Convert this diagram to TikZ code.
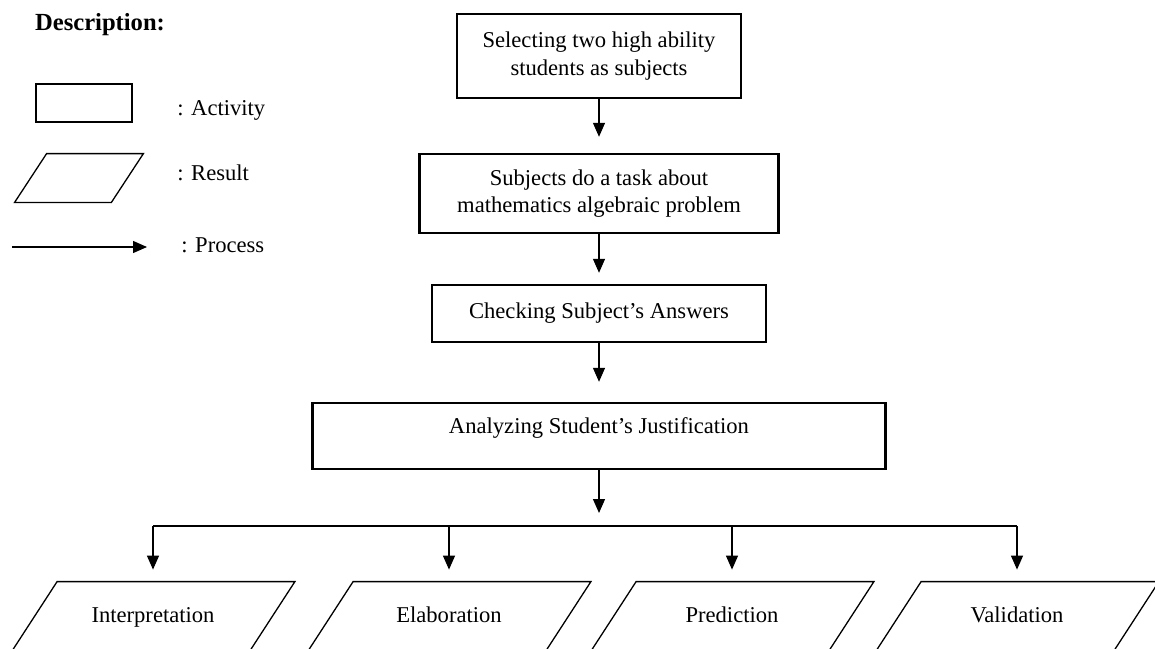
\documentclass[tikz,border=0pt]{standalone}
\usepackage{fontspec}
\setmainfont{Liberation Serif}
\usetikzlibrary{shapes.geometric, arrows.meta, positioning}

\begin{document}
\begin{tikzpicture}[
    x=0.5pt, y=-0.5pt,
    node distance=26.8pt,
    font=\fontsize{11.3}{13.8}\selectfont,
    box/.style={rectangle, draw, line width=1.2pt, align=center, inner sep=2pt},
    result/.style={minimum width=118.5pt, minimum height=35pt, text height=7.5pt, text depth=2.5pt, append after command={\pgfextra{\draw[line width=0.65pt] ([xshift=#1]\tikzlastnode.north west) -- ([xshift=#1]\tikzlastnode.north east) -- ([xshift=-#1]\tikzlastnode.south east) -- ([xshift=-#1]\tikzlastnode.south west) -- cycle;}}},
    result/.default=11.5pt,
    arrow/.style={-{Triangle[length=7pt, width=6pt]}, line width=0.65pt},
    line/.style={line width=0.65pt},
    legend/.style={anchor=west, inner sep=0pt}
]
\clip (0,0) rectangle (1155,648);

\node[font=\fontsize{12.3}{14}\selectfont\bfseries] (desc) at (100,25) {Description:};
\node[box, minimum width=48pt, minimum height=19pt] (keyact) at (84,103) {};
\node[result=8pt, minimum width=48pt, minimum height=24pt] (keyres) at (79,178) {};
\coordinate (keyfrom) at (12,247);
\coordinate (keyto) at (147,247);
\node[legend] (acttext) at (177,110) {: Activity};
\node[legend] (restext) at (177,173) {: Result};
\node[legend] (proctext) at (181,245) {: Process};

\node[box, minimum width=142pt, minimum height=42pt] (select) at (599,56) {Selecting two high ability\\students as subjects};
\node[box, minimum width=179.5pt, minimum height=39.5pt, below=of select] (task) {Subjects do a task about\\mathematics algebraic problem};
\node[box, minimum width=167pt, minimum height=28.5pt, below=24.8pt of task] (check) {Checking Subject's Answers};
\node[box, minimum width=286.5pt, minimum height=33pt, text depth=10.5pt, below=29.3pt of check] (analyze) {Analyzing Student's Justification};
\coordinate[below=27.9pt of analyze] (split);

\node[result] (interp) at (153,617) {Interpretation};
\node[result] (elab) at (449,617) {Elaboration};
\node[result] (pred) at (732,617) {Prediction};
\node[result] (valid) at (1017,617) {Validation};

\draw[arrow] (keyfrom) -- (keyto);
\draw[arrow, shorten >=8pt] (select) -- (task);
\draw[arrow, shorten >=5.5pt] (task) -- (check);
\draw[arrow, shorten >=10pt] (check) -- (analyze);
\draw[arrow, shorten >=6.5pt] (analyze) -- (split);
\draw[line] (interp |- split) -- (valid |- split);
\draw[arrow, shorten >=6pt] (interp |- split) -- (interp);
\draw[arrow, shorten >=6pt] (elab |- split) -- (elab);
\draw[arrow, shorten >=6pt] (pred |- split) -- (pred);
\draw[arrow, shorten >=6pt] (valid |- split) -- (valid);

\end{tikzpicture}
\end{document}
